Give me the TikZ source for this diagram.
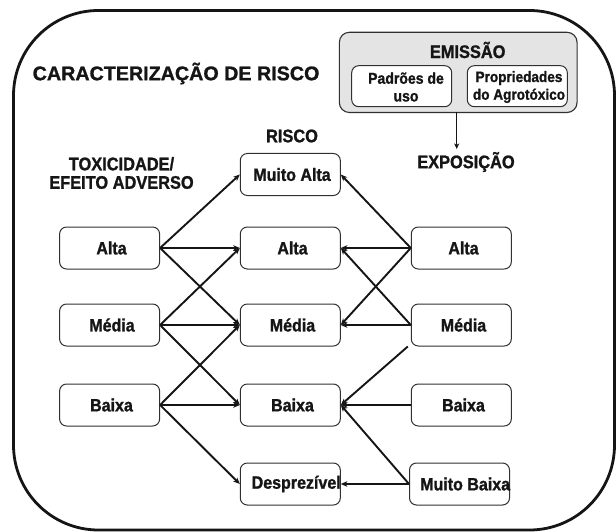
\documentclass[tikz,border=0pt]{standalone}
\usepackage{fontspec}
\setmainfont{Liberation Sans}
\newfontfamily\bfc{Liberation Sans Bold}[FakeBold=1.2]
\newfontfamily\bfcn{Liberation Sans Bold}[FakeStretch=0.9,FakeBold=1.2]
\usetikzlibrary{arrows.meta}
\definecolor{ink}{HTML}{151515}
\definecolor{boxline}{HTML}{303030}
\definecolor{emifill}{HTML}{E4E4E4}
\begin{document}
\begin{tikzpicture}[x=1pt,y=-1pt,
  box/.style={draw=boxline, line width=1pt, rounded corners=7pt, minimum width=100pt, minimum height=42pt, inner sep=0pt, fill=white},
  boxtext/.style={font=\bfcn\fontsize{17.8}{20}\selectfont, text=ink, inner sep=0pt},
  lbl/.style={font=\bfcn\fontsize{18.2}{20}\selectfont, text=ink, align=center, inner sep=0pt},
  arr/.style={line width=1.9pt, draw=ink, -{Stealth[length=6.5pt,width=5.5pt,inset=1.8pt]}},
]
\useasboundingbox (0,0) rectangle (616,532);
% outer frame
\draw[line width=2.8pt, draw=ink, rounded corners=85pt] (13.5,10.5) rectangle (614.5,530);
% title
\node[anchor=west, font=\bfc\fontsize{19.7}{22}\selectfont, text=ink, inner sep=0pt] (title) at (32.5,73.5) {CARACTERIZAÇÃO DE RISCO};
% emission block
\node[draw=boxline, line width=1.1pt, fill=emifill, rounded corners=10pt, minimum width=237.7pt, minimum height=80.2pt, inner sep=0pt] (emi) at (458.2,72.4) {};
\node[lbl] (emit) at (467.7,50) {EMISSÃO};
\node[box, minimum height=41pt] (pad) at (401.7,86.2) {};
\node[box, minimum height=41pt] (prop) at (517.3,86.2) {};
\node[align=center, font=\bfcn\fontsize{15.6}{17.7}\selectfont, text=ink, inner sep=0pt] (padt) at (406,87) {Padrões de\\uso};
\node[align=center, font=\bfcn\fontsize{15.1}{17.7}\selectfont, text=ink, inner sep=0pt] (propt) at (519,87) {Propriedades\\do Agrotóxico};
\coordinate (e1) at (456.7,112.5);
\coordinate (e2) at (456.7,149);
\draw[line width=1.5pt, draw=ink, -{Stealth[length=5.5pt,width=5pt,inset=1.4pt]}] (e1) -- (e2);
% headings
\node[lbl] (expo) at (466,162) {EXPOSIÇÃO};
\node[lbl] (risco) at (292,136) {RISCO};
\node[lbl] (tox) at (121.5,173) {TOXICIDADE/\\[-1.5pt]EFEITO ADVERSO};
% left column
\node[box] (lA) at (109.6,248) {};
\node[box] (lM) at (109.6,325) {};
\node[box] (lB) at (109.6,405) {};
% middle column
\node[box] (mMA) at (290.3,174.5) {};
\node[box] (mA) at (290.3,248) {};
\node[box] (mM) at (290.3,325) {};
\node[box] (mB) at (290.3,405) {};
\node[box] (mD) at (290.3,484) {};
% right column
\node[box] (rA) at (461.3,248) {};
\node[box] (rM) at (461.3,325) {};
\node[box] (rB) at (461.3,405) {};
\node[box] (rMB) at (459.5,484) {};
% texts
\node[boxtext] at (111.5,248) {Alta};
\node[boxtext] at (112,325) {Média};
\node[boxtext] at (111.5,405) {Baixa};
\node[boxtext] at (292,174.5) {Muito Alta};
\node[boxtext] at (292.5,248) {Alta};
\node[boxtext] at (292.5,325) {Média};
\node[boxtext] at (292.5,405) {Baixa};
\node[boxtext, anchor=west] at (251.5,484) {Desprezível};
\node[boxtext] at (463.5,248) {Alta};
\node[boxtext] at (463.5,325) {Média};
\node[boxtext] at (463.5,405) {Baixa};
\node[boxtext, anchor=west] at (420,484) {Muito Baixa};
% toxicity arrows
\draw[arr] (lA.east) -- (mMA.west);
\draw[arr] (lA.east) -- (mA.west);
\draw[arr] (lA.east) -- (mM.west);
\draw[arr] (lM.east) -- (mA.west);
\draw[arr] (lM.east) -- (mM.west);
\draw[arr] (lM.east) -- (mB.west);
\draw[arr] (lB.east) -- (mM.west);
\draw[arr] (lB.east) -- (mB.west);
\draw[arr] (lB.east) -- (mD.west);
% exposure arrows
\draw[arr] (rA.west) -- (mMA.east);
\draw[arr] (rA.west) -- (mA.east);
\draw[arr] (rA.west) -- (mM.east);
\draw[arr] (rM.west) -- (mA.east);
\draw[arr] (rM.west) -- (mM.east);
\draw[arr] ([xshift=-3pt]rM.south west) -- (mB.east);
\draw[arr] (rB.west) -- (mB.east);
\draw[arr] (rMB.west) -- (mB.east);
\draw[arr] (rMB.west) -- (mD.east);
\end{tikzpicture}
\end{document}
